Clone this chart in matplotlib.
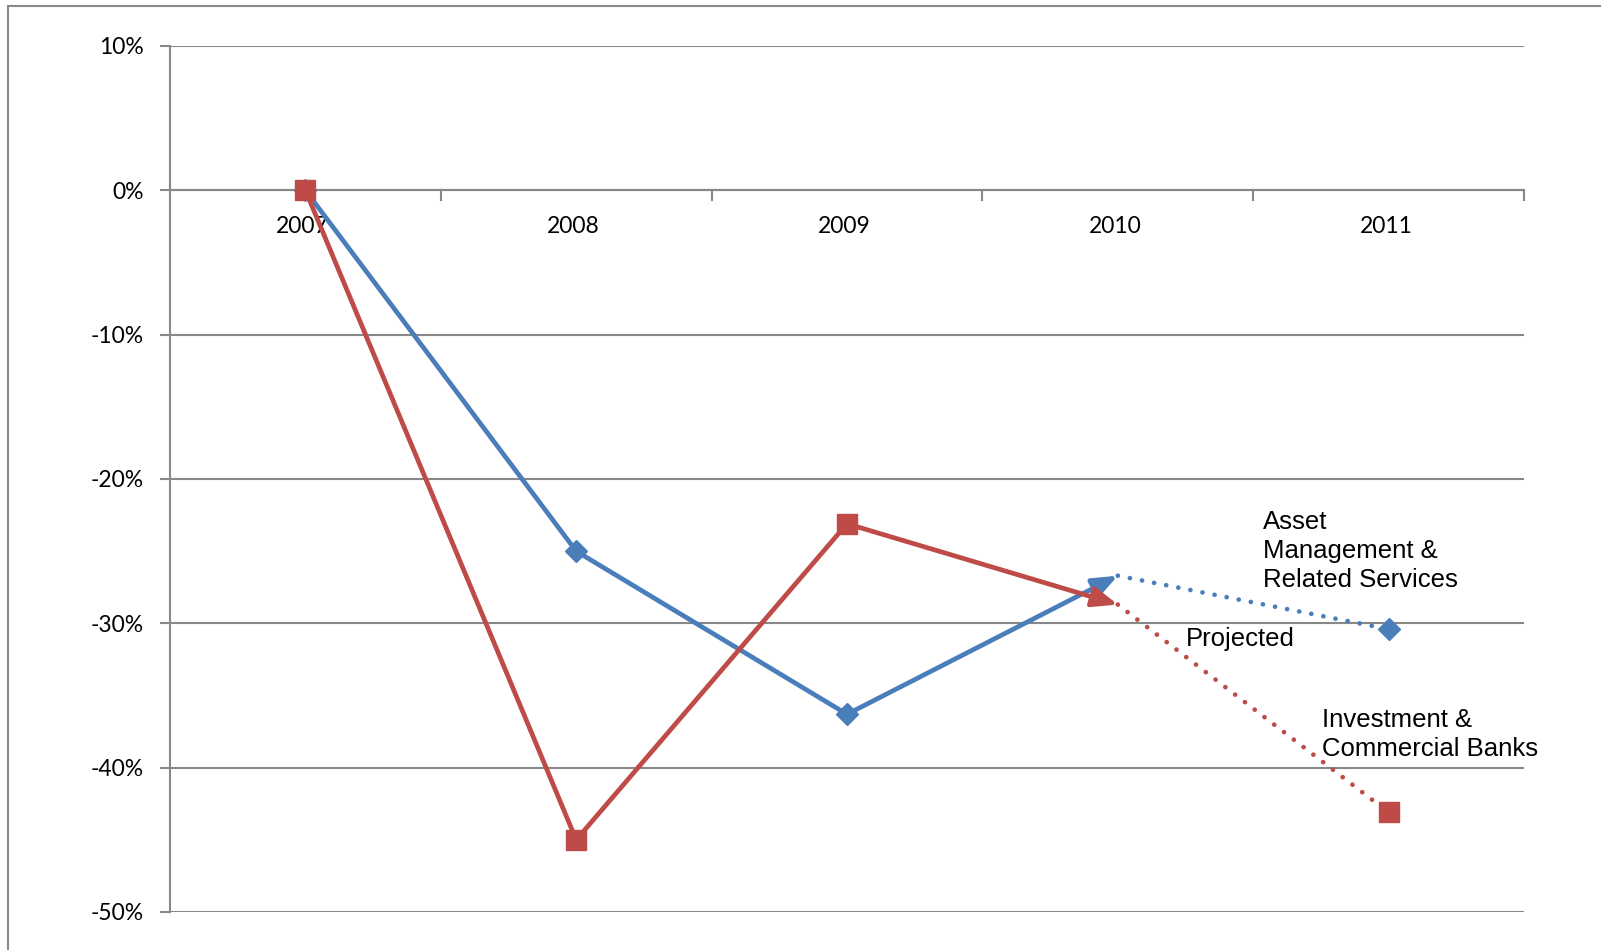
import matplotlib
matplotlib.use("Agg")
import matplotlib.pyplot as plt
from matplotlib.patches import Rectangle
from matplotlib.ticker import FuncFormatter, FixedLocator

# ---------------------------------------------------------------------------
# Data (percent change vs 2007)
# ---------------------------------------------------------------------------
years = ["2007", "2008", "2009", "2010", "2011"]
asset_mgmt = [0.0, -25.0, -36.3, -26.7, -30.4]
inv_banks = [0.0, -45.0, -23.1, -28.7, -43.1]
y_ticks = [10, 0, -10, -20, -30, -40, -50]

BLUE = "#4A7EBB"
RED = "#BE4B48"
GRID = "#888888"

fig = plt.figure(figsize=(16.01, 9.5), dpi=100)
ax = fig.add_axes([170 / 1601, 1 - 912 / 950, (1524 - 170) / 1601, (912 - 46) / 950])

# outer chart frame (runs off the right and bottom edges)
fig.patches.append(Rectangle((8 / 1601, -0.05), 1.1, 1 - 6 / 950 + 0.05,
                             transform=fig.transFigure, fill=False,
                             edgecolor="#8a8a8a", linewidth=1.5, zorder=0))

x = list(range(len(years)))
ax.set_xlim(-0.5, len(years) - 0.5)
ax.set_ylim(-50, 10)

# gridlines
for t in y_ticks:
    ax.axhline(t, color=GRID, linewidth=1.5, zorder=1)

# actual (solid) part: 2007-2009 with markers, arrow into 2010
def draw_series(vals, color, marker, ms):
    ax.plot(x[:3], vals[:3], color=color, linewidth=3.4, marker=marker,
            markersize=ms, markeredgecolor=color, zorder=3,
            solid_capstyle="butt")
    ax.annotate("", xy=(x[3], vals[3]), xytext=(x[2], vals[2]),
                arrowprops=dict(arrowstyle="-|>,head_length=0.75,head_width=0.3",
                                color=color, linewidth=3.4, shrinkA=0, shrinkB=0,
                                mutation_scale=20), zorder=3)
    # projected (dotted) part
    ax.plot(x[3:], vals[3:], color=color, linewidth=3.4,
            linestyle=(0, (0.01, 2.6)), dash_capstyle="round", zorder=3)
    ax.plot(x[4:], vals[4:], color=color, linestyle="none", marker=marker,
            markersize=ms, markeredgecolor=color, zorder=4)

draw_series(asset_mgmt, BLUE, "D", 11)
draw_series(inv_banks, RED, "s", 14)

# axes styling
for side in ["top", "right", "bottom"]:
    ax.spines[side].set_visible(False)
ax.spines["left"].set_color(GRID)
ax.spines["left"].set_linewidth(1.5)

ax.yaxis.set_major_locator(FixedLocator(y_ticks))
ax.yaxis.set_major_formatter(FuncFormatter(lambda v, _: f"{int(v)}%"))
ax.tick_params(axis="y", length=7, width=1.5, color=GRID, pad=12,
               labelsize=16.5, labelcolor="black")
for lab in ax.get_yticklabels():
    lab.set_family("Lato")

# category axis sits on the 0% line, ticks between categories
ax.set_xticks([])
ax.plot([-0.5, 4.5], [0, 0], color=GRID, linewidth=1.5, zorder=2)
for b in [0.5, 1.5, 2.5, 3.5, 4.5]:
    ax.plot([b, b], [0, -0.7], color=GRID, linewidth=1.5, zorder=2,
            clip_on=False)
for xi, yr in zip(x, years):
    ax.text(xi - 0.01, -1.8, yr, ha="center", va="top", fontsize=16.5,
            family="Lato", color="black", zorder=2)

# series labels
lab_font = dict(family="Liberation Sans", fontsize=18.5, color="black",
                linespacing=1.27)
ax.text(3.535, -22.15, "Asset\nManagement &\nRelated Services",
        ha="left", va="top", **lab_font)
ax.text(3.25, -31.1, "Projected", ha="left", va="center", **lab_font)
ax.text(3.755, -35.85, "Investment &\nCommercial Banks",
        ha="left", va="top", **lab_font)

fig.savefig("out.png", dpi=100)
